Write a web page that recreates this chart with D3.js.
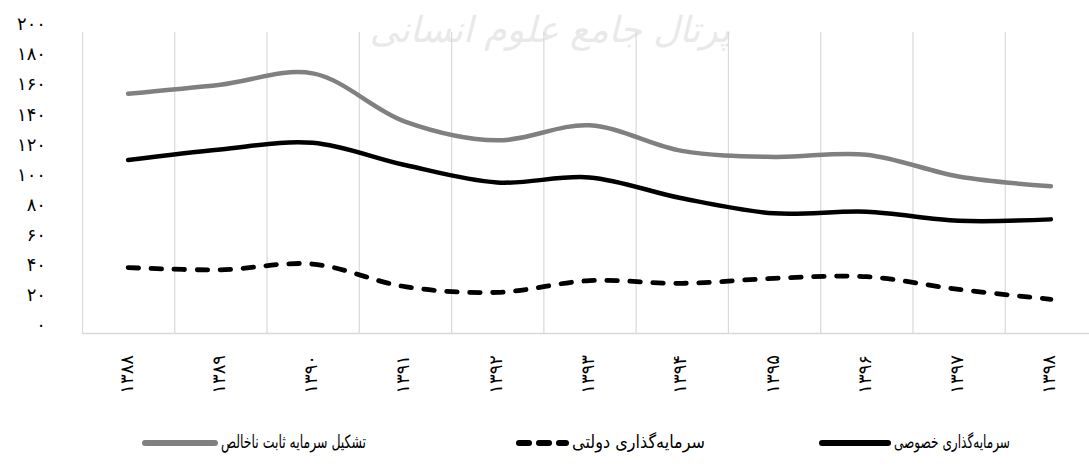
<!DOCTYPE html>
<html lang="fa">
<head>
<meta charset="utf-8">
<script src="https://cdn.jsdelivr.net/npm/d3@7"></script>
<style>
  html, body { margin: 0; padding: 0; background: #fff; }
  svg { display: block; }
  text { font-family: "DejaVu Sans", sans-serif; }
</style>
</head>
<body>
<svg id="chart" width="1089" height="466"></svg>
<script>
// ---- data ----
const categories = ["۱۳۸۸","۱۳۸۹","۱۳۹۰","۱۳۹۱","۱۳۹۲","۱۳۹۳","۱۳۹۴","۱۳۹۵","۱۳۹۶","۱۳۹۷","۱۳۹۸"];
const grossFixedCapital = [159, 165, 172.5, 140.5, 128, 138, 121, 117, 118.5, 104, 97.5];
const publicInvestment  = [43.5, 42, 45.8, 30.8, 27, 34.8, 33, 36.3, 37.4, 29, 22.4];
const privateInvestment = [115, 122, 126.4, 111.6, 100, 103.4, 89.5, 79.5, 80.6, 74.6, 75.5];
const yTicks = [0, 20, 40, 60, 80, 100, 120, 140, 160, 180, 200];
const seriesNames = ["سرمایه‌گذاری خصوصی", "سرمایه‌گذاری دولتی", "تشکیل سرمایه ثابت ناخالص"];
const watermark = "پرتال جامع علوم انسانی";

const toFa = s => String(s).replace(/\d/g, d => "۰۱۲۳۴۵۶۷۸۹"[d]);

const svg = d3.select("#chart");

const x = d3.scaleBand().domain(categories).range([82, 1097]).padding(0);
const y = d3.scaleLinear().domain([0, 200]).range([333, 32]);

// watermark
svg.append("text")
  .attr("x", 550).attr("y", 42)
  .attr("text-anchor", "middle")
  .attr("font-size", 36)
  .attr("font-style", "italic")
  .attr("fill", "#e9e9e9")
  .text(watermark);

// vertical gridlines at category boundaries
const bounds = categories.map(c => x(c)).concat([x.range()[1]]);
svg.append("g").selectAll("line").data(bounds).join("line")
  .attr("x1", d => d + 0.5).attr("x2", d => d + 0.5)
  .attr("y1", y(200)).attr("y2", y(0))
  .attr("stroke", "#d9d9d9").attr("stroke-width", 1.2);

// bottom axis line
svg.append("line")
  .attr("x1", x.range()[0]).attr("x2", x.range()[1])
  .attr("y1", y(0) + 0.5).attr("y2", y(0) + 0.5)
  .attr("stroke", "#d9d9d9").attr("stroke-width", 1.5);

// y axis labels
const yAxis = d3.axisLeft(y).tickValues(yTicks).tickSize(0).tickFormat(d => toFa(d));
const gy = svg.append("g").attr("transform", "translate(46,-8)").call(yAxis);
gy.select(".domain").remove();
gy.selectAll("text").attr("font-size", 18).attr("fill", "#000")
  .attr("font-family", "DejaVu Sans, sans-serif").attr("x", 0);

// x labels (rotated)
svg.append("g").selectAll("text").data(categories).join("text")
  .attr("transform", d => `translate(${x(d) + x.bandwidth() / 2 - 2},355) rotate(-90)`)
  .attr("text-anchor", "end")
  .attr("dominant-baseline", "central")
  .attr("font-size", 18)
  .attr("letter-spacing", 3)
  .attr("fill", "#000")
  .text(d => d);

// lines
const line = d3.line()
  .x((d, i) => x(categories[i]) + x.bandwidth() / 2)
  .y(d => y(d))
  .curve(d3.curveCatmullRom.alpha(0.5));

svg.append("path").datum(grossFixedCapital)
  .attr("d", line).attr("fill", "none")
  .attr("stroke", "#808080").attr("stroke-width", 4.5).attr("stroke-linecap", "round");

svg.append("path").datum(privateInvestment)
  .attr("d", line).attr("fill", "none")
  .attr("stroke", "#000").attr("stroke-width", 4.5).attr("stroke-linecap", "round");

svg.append("path").datum(publicInvestment)
  .attr("d", line).attr("fill", "none")
  .attr("stroke", "#000").attr("stroke-width", 4.8)
  .attr("stroke-linecap", "round").attr("stroke-dasharray", "10.5,12.5");

// legend
const legendItems = [
  { name: seriesNames[0], color: "#000", dash: null, x1: 822, x2: 888, tx: 894, tw: 116 },
  { name: seriesNames[1], color: "#000", dash: "10,10", x1: 519, x2: 566, tx: 572, tw: 133 },
  { name: seriesNames[2], color: "#808080", dash: null, x1: 145, x2: 215, tx: 221, tw: 145 }
];
const lg = svg.append("g");
legendItems.forEach(it => {
  lg.append("line")
    .attr("x1", it.x1).attr("x2", it.x2).attr("y1", 443).attr("y2", 443)
    .attr("stroke", it.color).attr("stroke-width", 6)
    .attr("stroke-linecap", "round")
    .attr("stroke-dasharray", it.dash);
  lg.append("text")
    .attr("x", it.tx).attr("y", 441)
    .attr("text-anchor", "start")
    .attr("dominant-baseline", "central")
    .attr("font-size", 18)
    .attr("textLength", it.tw)
    .attr("lengthAdjust", "spacingAndGlyphs")
    .attr("fill", "#000")
    .text(it.name);
});
</script>
</body>
</html>
